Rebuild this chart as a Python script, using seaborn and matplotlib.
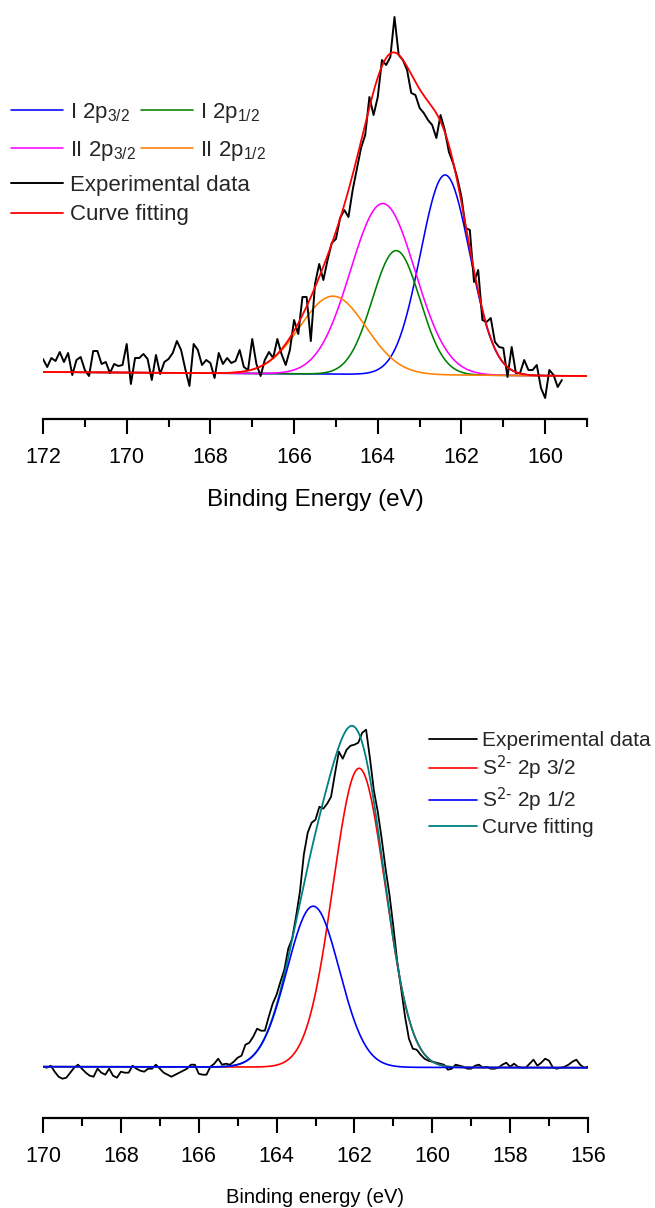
import numpy as np
import pandas as pd
import matplotlib
matplotlib.use("Agg")
import matplotlib.pyplot as plt
import seaborn as sns
from matplotlib.ticker import MultipleLocator

sns.set_theme(style="white")
plt.rcParams["font.family"] = ["Liberation Sans", "DejaVu Sans"]
plt.rcParams["mathtext.default"] = "regular"

# ---- Panel (a): S 2p, two sulfur species -------------------------------
a_be = np.round(np.arange(172.0, 159.55, -0.1), 1)
a_counts = [13, 5, 14, 11, 20, 10, 19, -3, 12, 15,
            2, -4, 21, 21, 8, 10, -1, 8, 6, 7,
            28, -12, 14, 14, 18, 13, -8, 17, -2, 10,
            13, 19, 31, 22, 3, -14, 28, 22, 7, 12,
            9, -6, 19, 8, 14, 9, 11, 22, 5, 2,
            33, 8, -4, 12, 20, 14, 33, 18, 7, 22,
            52, 38, 75, 75, 31, 88, 108, 92, 112, 129,
            133, 154, 162, 155, 182, 203, 224, 237, 275, 257,
            275, 312, 307, 315, 355, 317, 312, 302, 279, 277,
            264, 259, 252, 247, 234, 257, 242, 220, 209, 194,
            175, 144, 142, 90, 102, 52, 50, 54, 30, 25,
            24, -5, 25, -1, -1, 12, 2, 2, 7, -16,
            -26, 2, -3, -15, -8]
a_range = [172.0, 159.0]
a_bg = [0.0, -4.0]
a_labels = ["I 2p$_{3/2}$", "I 2p$_{1/2}$", "II 2p$_{3/2}$", "II 2p$_{1/2}$"]
a_centers = [162.39, 163.56, 163.88, 165.07]
a_heights = [200, 124, 171, 78]
a_fwhm = [1.39, 1.34, 1.82, 1.86]
a_colors = ["#0000FF", "#008000", "#FF00FF", "#FF8000"]

# ---- Panel (b): S 2p, sulfide ------------------------------------------
b_be = np.round(np.arange(170.0, 155.95, -0.1), 1)
b_counts = [0, -1, 1, -5, -10, -12, -11, -6, -1, 2,
            -2, -6, -9, -10, -2, -6, -8, -2, -9, -11,
            -5, -6, -6, 1, -2, -4, -5, -2, -2, 2,
            -2, -6, -8, -10, -8, -6, -4, -2, 2, 2,
            -7, -8, -8, 0, 3, 8, 2, 3, 2, 5,
            9, 11, 22, 24, 30, 38, 36, 36, 50, 63,
            72, 85, 97, 118, 128, 150, 175, 212, 234, 244,
            247, 260, 258, 263, 270, 293, 315, 308, 317, 321,
            322, 324, 334, 337, 308, 276, 255, 228, 198, 172,
            140, 105, 78, 50, 28, 18, 17, 12, 8, 6,
            5, 4, 3, 2, -3, -2, 2, 1, 0, -2,
            -2, 1, 2, -1, 0, -2, -2, -1, 2, 4,
            0, 3, 0, -1, -1, 3, 7, 1, 4, 8,
            6, -1, -2, -1, 0, 2, 5, 7, 2, -1,
            0]
b_range = [170.0, 156.0]
b_bg = [0.0, -1.0]
b_labels = ["S$^{\\text{2-}}$ 2p 3/2", "S$^{\\text{2-}}$ 2p 1/2"]
b_centers = [161.88, 163.06]
b_heights = [299, 161]
b_fwhm = [1.58, 1.58]
b_colors = ["#FF0000", "#0000FF"]

W, H = 655, 1208


def gauss(x, c, h, w):
    s = w / 2.3548
    return h * np.exp(-0.5 * ((x - c) / s) ** 2)


def background(x, xr, bg):
    return bg[0] + (bg[1] - bg[0]) * (xr[0] - x) / (xr[0] - xr[1])


def fig_box(left, top, right, bottom):
    return [left / W, 1 - bottom / H, (right - left) / W, (bottom - top) / H]


def style_axis(ax, xr, label, label_size, label_pad):
    ax.set_xlim(xr[0], xr[1])
    for s in ("left", "top", "right"):
        ax.spines[s].set_visible(False)
    ax.spines["bottom"].set_color("black")
    ax.spines["bottom"].set_linewidth(1.6)
    ax.set_yticks([])
    ax.set_ylabel("")
    ax.xaxis.set_major_locator(MultipleLocator(2))
    ax.xaxis.set_minor_locator(MultipleLocator(1))
    ax.tick_params(axis="x", which="major", bottom=True, direction="out",
                   length=11, width=1.5, color="black", pad=9,
                   labelsize=15.5, labelcolor="black")
    ax.tick_params(axis="x", which="minor", bottom=True, direction="out",
                   length=5.5, width=1.5, color="black")
    ax.set_xlabel(label, fontsize=label_size, labelpad=label_pad, color="black")


def draw_line(ax, x, y, color, lw, z):
    df = pd.DataFrame({"be": x, "intensity": y})
    sns.lineplot(data=df, x="be", y="intensity", ax=ax, color=color,
                 linewidth=lw, estimator=None, sort=False, legend=False, zorder=z)
    return ax.lines[-1]


fig = plt.figure(figsize=(W / 100, H / 100), dpi=100)

# Panel (a)
ax1 = fig.add_axes(fig_box(43, 5, 587, 419))
xa = np.linspace(a_range[0], a_range[1], 800)
bga = background(xa, a_range, a_bg)
comps = []
fit_a = bga.copy()
for c, h, w, col in zip(a_centers, a_heights, a_fwhm, a_colors):
    p = gauss(xa, c, h, w)
    fit_a += p
    comps.append(draw_line(ax1, xa, p + bga, col, 1.15, 2))
exp_a = draw_line(ax1, a_be, a_counts, "black", 1.4, 3)
fit_line_a = draw_line(ax1, xa, fit_a, "#FF0000", 1.3, 4)
ax1.set_ylim(-47, 367)
style_axis(ax1, a_range, "Binding Energy (eV)", 17.5, 15)

leg_a = ax1.legend([comps[0], comps[2], comps[1], comps[3]],
                   [a_labels[0], a_labels[2], a_labels[1], a_labels[3]],
                   ncol=2, frameon=False, fontsize=16,
                   loc="upper left", bbox_to_anchor=(11 / W, 1 - 101 / H),
                   bbox_transform=fig.transFigure, borderpad=0, borderaxespad=0,
                   handlelength=2.35, handletextpad=0.32, columnspacing=0.2,
                   labelspacing=0.62)
ax1.add_artist(leg_a)
ax1.legend([exp_a, fit_line_a], ["Experimental data", "Curve fitting"],
           frameon=False, fontsize=16, loc="upper left",
           bbox_to_anchor=(11 / W, 1 - 175 / H), bbox_transform=fig.transFigure,
           borderpad=0, borderaxespad=0, handlelength=2.35,
           handletextpad=0.32, labelspacing=0.38)

# Panel (b)
ax2 = fig.add_axes(fig_box(43, 700, 588, 1118))
xb = np.linspace(b_range[0], b_range[1], 800)
bgb = background(xb, b_range, b_bg)
fit_b = bgb.copy()
b_curves = []
for c, h, w in zip(b_centers, b_heights, b_fwhm):
    p = gauss(xb, c, h, w)
    fit_b += p
    b_curves.append(p + bgb)
exp_b = draw_line(ax2, b_be, b_counts, "black", 1.3, 2)
red_b = draw_line(ax2, xb, b_curves[0], b_colors[0], 1.2, 3)
fit_line_b = draw_line(ax2, xb, fit_b, "#008080", 1.3, 4)
blue_b = draw_line(ax2, xb, b_curves[1], b_colors[1], 1.2, 5)
ax2.set_ylim(-51.3, 366.7)
style_axis(ax2, b_range, "Binding energy (eV)", 14.5, 15)

ax2.legend([exp_b, red_b, blue_b, fit_line_b],
           ["Experimental data", b_labels[0], b_labels[1], "Curve fitting"],
           frameon=False, fontsize=15, loc="upper left",
           bbox_to_anchor=(429 / W, 1 - 731 / H), bbox_transform=fig.transFigure,
           borderpad=0, borderaxespad=0, handlelength=2.3,
           handletextpad=0.25, labelspacing=0.18)

fig.savefig("out.png", dpi=100, facecolor="white")
